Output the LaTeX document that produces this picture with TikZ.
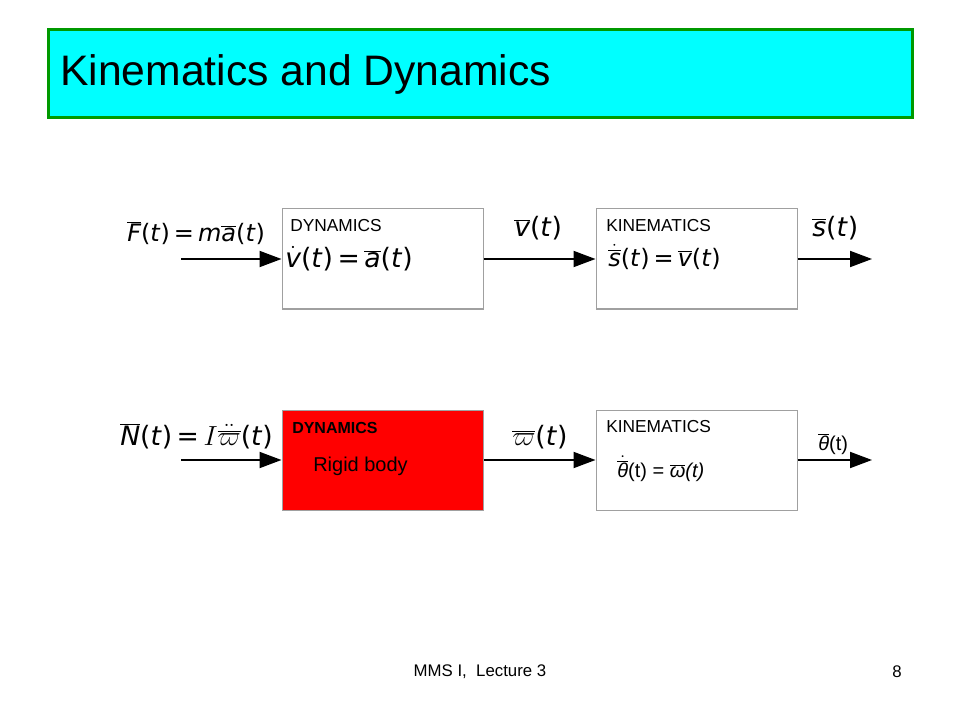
\documentclass[tikz,border=0pt]{standalone}
\usepackage{fontspec}
\setmainfont{Liberation Sans}
\newfontfamily\dvs{DejaVu Sans}
\usetikzlibrary{arrows.meta}
\definecolor{titlecyan}{RGB}{0,255,255}
\definecolor{titlegreen}{RGB}{0,153,0}
\definecolor{boxgray}{RGB}{160,160,160}
\newcommand{\dv}[1]{\mbox{\dvs\itshape #1}}
\newcommand{\dvbar}[1]{\overline{\mbox{\dvs\itshape #1}}}
\newcommand{\fsz}[1]{\fontsize{#1}{#1}\selectfont}
\tikzset{
  blockbox/.style={draw=boxgray, line width=0.75pt, minimum width=150.75pt, minimum height=75pt, inner sep=0pt},
  signal/.style={line width=1.4pt, -{Triangle[length=16.5pt,width=12pt]}},
  boxtext/.style={anchor=west, inner sep=0pt}
}

\begin{document}
\begin{tikzpicture}[x=0.75pt, y=-0.75pt]
			%%%%% START %%%%%
			\useasboundingbox (0,0) rectangle (960,720);
			
			% title
			\node[draw=titlegreen, line width=2.2pt, fill=titlecyan, minimum width=648pt, minimum height=66.5pt, inner sep=0pt] (title) at (480.5,73.5) {};
			\node[boxtext] (titletext) at (60,74) {\fsz{32}Kinematics and Dynamics};
			
			% translation
			\node[blockbox] (dyn) at (382.5,259) {};
			\node[blockbox] (kin) at (696.5,259) {};
			\coordinate (fin) at (181,259);
			\coordinate (sout) at (872,259);
			\draw[signal] (fin) -- (dyn.west);
			\draw[signal] (dyn.east) -- (kin.west);
			\draw[signal] (kin.east) -- (sout);
			
			\node[boxtext] (dynlab) at (290,226) {\fsz{13}DYNAMICS};
			\node[boxtext] (dyneq) at (285,259) {\fsz{20}$\dot{\mbox{\dvs\itshape v}}$\dvs(\textit{t})\,=\,$\dvbar{a}$(\textit{t})};
			\node[boxtext] (kinlab) at (606,226) {\fsz{13}KINEMATICS};
			\node[boxtext] (kineq) at (608,257) {\fsz{18}$\dot{\dvbar{s}}$\dvs(\textit{t})\,=\,$\dvbar{v}$(\textit{t})};
			\node[boxtext] (force) at (127,233) {\fsz{18}$\dvbar{F}$\dvs(\textit{t})\,=\,\textit{m}$\dvbar{a}$(\textit{t})};
			\node[boxtext] (vel) at (514,228) {\fsz{20}$\dvbar{v}$\dvs(\textit{t})};
			\node[boxtext] (pos) at (812,228) {\fsz{20}$\dvbar{s}$\dvs(\textit{t})};
			
			% rotation
			\node[blockbox, fill=red] (rdyn) at (382.5,460) {};
			\node[blockbox] (rkin) at (696.5,460) {};
			\coordinate (nin) at (181,460);
			\coordinate (thout) at (872,460);
			\draw[signal] (nin) -- (rdyn.west);
			\draw[signal] (rdyn.east) -- (rkin.west);
			\draw[signal] (rkin.east) -- (thout);
			
			\node[boxtext] (rdynlab) at (292,428) {\fsz{12}\bfseries DYNAMICS};
			\node[boxtext] (rigid) at (313,466) {\fsz{15}Rigid body};
			\node[boxtext] (rkinlab) at (606,427) {\fsz{13}KINEMATICS};
			\node[boxtext] (rkineq) at (617,469) {\fsz{15}$\dot{\overline{\mbox{\itshape θ}}}$(t) = $\overline{\mbox{\itshape ω}}$\textit{(t)}};
			\node[boxtext] (torque) at (120,436) {\fsz{20}$\dvbar{N}$\dvs(\textit{t})\,=\,$I\ddot{\overline{\varpi}}$\dvs(\textit{t})};
			\node[boxtext] (omega) at (512,437) {\fsz{20}$\overline{\varpi}$\dvs(\textit{t})};
			\node[boxtext] (theta) at (818,444) {\fsz{15}$\overline{\mbox{\itshape θ}}$(t)};
			
			% footer
			\node (footer) at (480,672) {\fsz{12.6}MMS I,\ \ Lecture 3};
			\node (pagenum) at (897,672) {\fsz{12.6}8};
			%%%%% END %%%%%
\end{tikzpicture}
\end{document}
